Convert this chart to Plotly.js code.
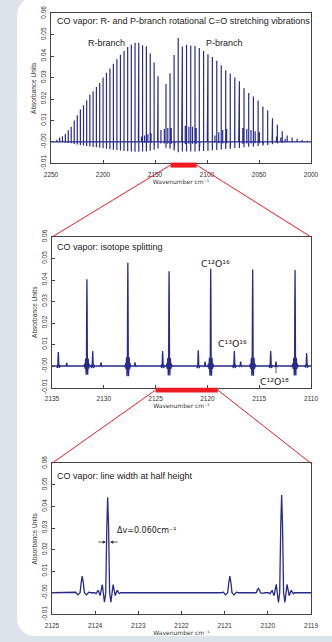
<!DOCTYPE html>
<html><head><meta charset="utf-8">
<script src="https://cdn.plot.ly/plotly-3.0.1.min.js"></script>
<style>
html,body{margin:0;padding:0;width:332px;height:642px;overflow:hidden;background:#dde3ea;}
#bgpanel{position:absolute;left:17px;top:-4px;width:330px;height:640px;background:#fff;border-radius:20px 0 0 18px;}
#chart{position:absolute;left:0;top:0;width:332px;height:642px;}
</style></head><body>
<div id="bgpanel"></div><div id="chart"></div>
<script>
// ---------- Panel 1: full CO band (line positions, peak absorbance) ----------
const rBranchWavenumber = [2147.08, 2150.86, 2154.60, 2158.30, 2161.97, 2165.60, 2169.20, 2172.76, 2176.28, 2179.77, 2183.22, 2186.64, 2190.02, 2193.36, 2196.66, 2199.93, 2203.16, 2206.35, 2209.51, 2212.63, 2215.71, 2218.75, 2221.76, 2224.73, 2227.66, 2230.56, 2233.41, 2236.23, 2239.00, 2241.74, 2244.44];
const rBranchAbsorbance = [0.0306, 0.0370, 0.0412, 0.0446, 0.0451, 0.0462, 0.0462, 0.0454, 0.0443, 0.0424, 0.0406, 0.0385, 0.0365, 0.0342, 0.0322, 0.0300, 0.0275, 0.0256, 0.0236, 0.0220, 0.0194, 0.0171, 0.0151, 0.0124, 0.0100, 0.0070, 0.0054, 0.0037, 0.0026, 0.0020, 0.0010];
const pBranchWavenumber = [2139.43, 2135.55, 2131.63, 2127.68, 2123.70, 2119.68, 2115.63, 2111.54, 2107.42, 2103.27, 2099.08, 2094.86, 2090.61, 2086.32, 2082.00, 2077.65, 2073.26, 2068.85, 2064.40, 2059.91, 2055.40, 2050.85, 2046.28, 2041.67, 2037.03, 2032.35, 2027.65, 2022.91, 2018.15, 2013.35, 2008.53, 2003.67];
const pBranchAbsorbance = [0.0270, 0.0320, 0.0405, 0.0485, 0.0445, 0.0453, 0.0450, 0.0447, 0.0438, 0.0424, 0.0409, 0.0396, 0.0378, 0.0357, 0.0334, 0.0319, 0.0300, 0.0283, 0.0250, 0.0228, 0.0212, 0.0193, 0.0165, 0.0146, 0.0110, 0.0080, 0.0050, 0.0030, 0.0020, 0.0014, 0.0009, 0.0005];
const c13BandWavenumber = [2166.0, 2163.0, 2160.0, 2156.9, 2153.8, 2150.7, 2147.5, 2144.3, 2141.0, 2137.7, 2134.4, 2131.1, 2127.7, 2124.3, 2120.9, 2117.4, 2113.9, 2110.4, 2106.9, 2103.3, 2099.7, 2092.4, 2088.7, 2084.9, 2081.1, 2077.3, 2073.4, 2069.5, 2065.6, 2061.7, 2057.7, 2053.7, 2049.6, 2045.6, 2041.5, 2037.4, 2033.2, 2029.0, 2024.8];
const c13BandAbsorbance = [0.0020, 0.0025, 0.0030, 0.0035, 0.0040, 0.0045, 0.0050, 0.0055, 0.0060, 0.0065, 0.0065, 0.0070, 0.0072, 0.0075, 0.0075, 0.0070, 0.0070, 0.0065, 0.0060, 0.0050, 0.0035, 0.0030, 0.0045, 0.0055, 0.0060, 0.0065, 0.0068, 0.0068, 0.0065, 0.0060, 0.0055, 0.0050, 0.0045, 0.0040, 0.0035, 0.0030, 0.0025, 0.0020, 0.0015];

// ---------- Panel 2: isotope splitting ----------
const isoMainWavenumber = [2131.63, 2127.68, 2123.70, 2119.68, 2115.63, 2111.54];
const isoMainAbsorbance = [0.0403, 0.0480, 0.0441, 0.0452, 0.0449, 0.0446];
const isoMinorWavenumber = [2134.39, 2133.58, 2131.07, 2130.27, 2126.99, 2124.32, 2120.88, 2120.23, 2117.40, 2116.79, 2113.89, 2113.38, 2110.42];
const isoMinorAbsorbance = [0.0065, 0.0015, 0.0070, 0.0017, 0.0017, 0.0070, 0.0073, 0.0020, 0.0070, 0.0020, 0.0070, 0.0020, 0.0060];

// ---------- Panel 3: line width at half height ----------
const hwMainWavenumber = [2123.71, 2119.68];
const hwMainAbsorbance = [0.0442, 0.0453];
const hwMinorWavenumber = [2124.30, 2120.88, 2120.22];
const hwMinorAbsorbance = [0.0077, 0.0077, 0.0020];

// Instrument line shape (offset in cm-1, fraction of peak)
const mainShapeOffset   = [0.30, 0.27, 0.22, 0.175, 0.125, 0.075, 0.045, 0.02, 0, -0.02, -0.045, -0.075, -0.125, -0.175, -0.22, -0.27, -0.30];
const mainShapeFraction = [0, -0.01, 0.025, -0.03, 0.085, -0.10, 0, 0.7, 1, 0.7, 0, -0.10, 0.085, -0.03, 0.025, -0.01, 0];
const minorShapeOffset   = [0.20, 0.15, 0.10, 0.05, 0.025, 0, -0.025, -0.05, -0.10, -0.15, -0.20];
const minorShapeFraction = [0, 0.03, -0.13, 0, 0.6, 1, 0.6, 0, -0.13, 0.03, 0];

// ---------- Axes ----------
const yTickVals = [-0.01, 0, 0.01, 0.02, 0.03, 0.04, 0.05, 0.06];
const yTickText = ['-0.01', '-0.00', '0.01', '0.02', '0.03', '0.04', '0.05', '0.06'];
const x1Ticks = [2250, 2200, 2150, 2100, 2050, 2000];
const x2Ticks = [2135, 2130, 2125, 2120, 2115, 2110];
const x3Ticks = [2125, 2124, 2123, 2122, 2121, 2120, 2119];
const x1Range = [2250, 2000], x2Range = [2135, 2110], x3Range = [2125, 2119];
const yRange = [-0.01, 0.06];

// ---------- build traces ----------
function profile(range, groups) {
  const lines = [];
  groups.forEach(g => g.pos.forEach((w, i) => lines.push({w: w, a: g.amp[i], off: g.off, frac: g.frac})));
  lines.sort((a, b) => b.w - a.w);
  const xs = [range[0]], ys = [0];
  lines.forEach(L => L.off.forEach((o, k) => { xs.push(L.w + o); ys.push(L.a * L.frac[k]); }));
  xs.push(range[1]); ys.push(0);
  return {x: xs, y: ys};
}
// panel 1: at this scale each line collapses to a vertical stroke from its lowest ringing lobe to its peak
const minMain = Math.min.apply(null, mainShapeFraction), minMinor = Math.min.apply(null, minorShapeFraction);
const spikeOff = [0, 0, 0, 0];
const p1 = profile(x1Range, [
  {pos: rBranchWavenumber, amp: rBranchAbsorbance, off: spikeOff, frac: [0, 1, minMain, 0]},
  {pos: pBranchWavenumber, amp: pBranchAbsorbance, off: spikeOff, frac: [0, 1, minMain, 0]},
  {pos: c13BandWavenumber, amp: c13BandAbsorbance, off: spikeOff, frac: [0, 1, minMinor, 0]}
]);
const p2 = profile(x2Range, [
  {pos: isoMainWavenumber, amp: isoMainAbsorbance, off: mainShapeOffset, frac: mainShapeFraction},
  {pos: isoMinorWavenumber, amp: isoMinorAbsorbance, off: minorShapeOffset, frac: minorShapeFraction}
]);
const p3 = profile(x3Range, [
  {pos: hwMainWavenumber, amp: hwMainAbsorbance, off: mainShapeOffset, frac: mainShapeFraction},
  {pos: hwMinorWavenumber, amp: hwMinorAbsorbance, off: minorShapeOffset, frac: minorShapeFraction}
]);

const lineColor = '#262b8c';
const traces = [
  {x: p1.x, y: p1.y, xaxis: 'x', yaxis: 'y', type: 'scatter', mode: 'lines', line: {color: lineColor, width: 1.2}, hoverinfo: 'skip'},
  {x: p2.x, y: p2.y, xaxis: 'x2', yaxis: 'y2', type: 'scatter', mode: 'lines', line: {color: lineColor, width: 1.3}, hoverinfo: 'skip'},
  {x: p3.x, y: p3.y, xaxis: 'x3', yaxis: 'y3', type: 'scatter', mode: 'lines', line: {color: lineColor, width: 1.3}, hoverinfo: 'skip'}
];

// ---------- layout geometry ----------
const W = 332, H = 642;
const px = v => v / W, py = v => 1 - v / H;
const d = {
  x1: [px(51), px(311)], y1: [py(163.3), py(13.3)],
  x2: [px(52), px(311)], y2: [py(387.5), py(237)],
  x3: [px(52), px(311)], y3: [py(614.3), py(463.3)]
};
const FONT = 'Liberation Sans, Arial, sans-serif';
const axisFont = {family: FONT, size: 6.5, color: '#333'};
function xAxis(domain, range, ticks, anchor) {
  return {domain: domain, range: range, anchor: anchor, tickvals: ticks, ticktext: ticks.map(String),
    ticks: 'inside', ticklen: 3, tickcolor: '#444', tickwidth: 1, showline: true, linecolor: '#444', linewidth: 1,
    mirror: true, showgrid: false, zeroline: false, tickfont: axisFont, ticklabelstandoff: 5,
    title: {text: 'Wavenumber cm\u207B\u00B9', font: {family: 'DejaVu Sans, sans-serif', size: 6, color: '#333'}, standoff: 2}};
}
function yAxis(domain, anchor) {
  return {domain: domain, range: yRange, anchor: anchor, tickvals: yTickVals, ticktext: yTickText, tickangle: -90,
    ticks: 'inside', ticklen: 3, tickcolor: '#444', tickwidth: 1, showline: true, linecolor: '#444', linewidth: 1,
    mirror: true, showgrid: false, zeroline: false, tickfont: axisFont, ticklabelstandoff: 1,
    title: {text: 'Absorbance Units', font: axisFont, standoff: 3}};
}
function toPaperX(dom, range, v) { return dom[0] + (dom[1] - dom[0]) * (v - range[0]) / (range[1] - range[0]); }

const RED = '#f01c24';
const shapes = [
  {type: 'rect', xref: 'x', yref: 'paper', x0: x2Range[0], x1: x2Range[1], y0: py(167.6), y1: py(162.6), fillcolor: RED, line: {width: 0}},
  {type: 'rect', xref: 'x2', yref: 'paper', x0: x3Range[0], x1: x3Range[1], y0: py(392.6), y1: py(387.8), fillcolor: RED, line: {width: 0}},
  {type: 'line', xref: 'paper', yref: 'paper', x0: toPaperX(d.x1, x1Range, x2Range[0]), y0: py(165), x1: d.x2[0], y1: d.y2[1], line: {color: RED, width: 1}},
  {type: 'line', xref: 'paper', yref: 'paper', x0: toPaperX(d.x1, x1Range, x2Range[1]), y0: py(165), x1: d.x2[1], y1: d.y2[1], line: {color: RED, width: 1}},
  {type: 'line', xref: 'paper', yref: 'paper', x0: toPaperX(d.x2, x2Range, x3Range[0]), y0: py(390), x1: d.x3[0], y1: d.y3[1], line: {color: RED, width: 1}},
  {type: 'line', xref: 'paper', yref: 'paper', x0: toPaperX(d.x2, x2Range, x3Range[1]), y0: py(390), x1: d.x3[1], y1: d.y3[1], line: {color: RED, width: 1}}
];

const titleFont = {family: FONT, size: 9, color: '#222'};
const labelFont = {family: 'DejaVu Sans, sans-serif', size: 9.3, color: '#222'};
const arrowBase = {text: '', showarrow: true, arrowhead: 2, arrowsize: 0.8, arrowwidth: 0.8, arrowcolor: '#333'};
const annotations = [
  {xref: 'paper', yref: 'paper', x: px(55), y: py(21), xanchor: 'left', yanchor: 'middle', showarrow: false, font: titleFont,
   text: 'CO vapor: R- and P-branch rotational C=O stretching vibrations'},
  {xref: 'x', yref: 'y', x: 2197, y: 0.0461, showarrow: false, font: titleFont, text: 'R-branch'},
  {xref: 'x', yref: 'y', x: 2082.7, y: 0.0461, showarrow: false, font: titleFont, text: 'P-branch'},
  {xref: 'paper', yref: 'paper', x: px(55), y: py(247.3), xanchor: 'left', yanchor: 'middle', showarrow: false, font: titleFont,
   text: 'CO vapor: isotope splitting'},
  {xref: 'x2', yref: 'y2', x: 2119.22, y: 0.0478, showarrow: false, font: labelFont, text: 'C\u00B9\u00B2O\u00B9\u2076'},
  {xref: 'x2', yref: 'y2', x: 2117.58, y: 0.0105, showarrow: false, font: labelFont, text: 'C\u00B9\u00B3O\u00B9\u2076'},
  {xref: 'x2', yref: 'y2', x: 2113.57, y: -0.0074, showarrow: false, font: labelFont, text: 'C\u00B9\u00B2O\u00B9\u2078'},
  Object.assign({xref: 'x2', yref: 'y2', x: 2113.38, y: 0.0012, axref: 'x2', ayref: 'y2', ax: 2113.38, ay: -0.0040}, arrowBase),
  {xref: 'paper', yref: 'paper', x: px(55), y: py(475.7), xanchor: 'left', yanchor: 'middle', showarrow: false, font: titleFont,
   text: 'CO vapor: line width at half height'},
  {xref: 'x3', yref: 'y3', x: 2123.54, y: 0.029, xanchor: 'left', showarrow: false, font: {family: 'DejaVu Sans, sans-serif', size: 8, color: '#222'},
   text: '\u0394v=0.060cm\u207B\u00B9'},
  Object.assign({xref: 'x3', yref: 'y3', x: 2123.749, y: 0.0235, axref: 'x3', ayref: 'y3', ax: 2123.96, ay: 0.0235}, arrowBase),
  Object.assign({xref: 'x3', yref: 'y3', x: 2123.656, y: 0.0235, axref: 'x3', ayref: 'y3', ax: 2123.445, ay: 0.0235}, arrowBase)
];

const layout = {
  width: W, height: H, margin: {l: 0, r: 0, t: 0, b: 0},
  paper_bgcolor: 'rgba(0,0,0,0)', plot_bgcolor: '#ffffff', showlegend: false,
  font: {family: FONT},
  xaxis: xAxis(d.x1, x1Range, x1Ticks, 'y'),
  yaxis: yAxis(d.y1, 'x'),
  xaxis2: xAxis(d.x2, x2Range, x2Ticks, 'y2'),
  yaxis2: yAxis(d.y2, 'x2'),
  xaxis3: xAxis(d.x3, x3Range, x3Ticks, 'y3'),
  yaxis3: yAxis(d.y3, 'x3'),
  shapes: shapes, annotations: annotations
};
Plotly.newPlot('chart', traces, layout, {displayModeBar: false, staticPlot: true});
</script></body></html>
